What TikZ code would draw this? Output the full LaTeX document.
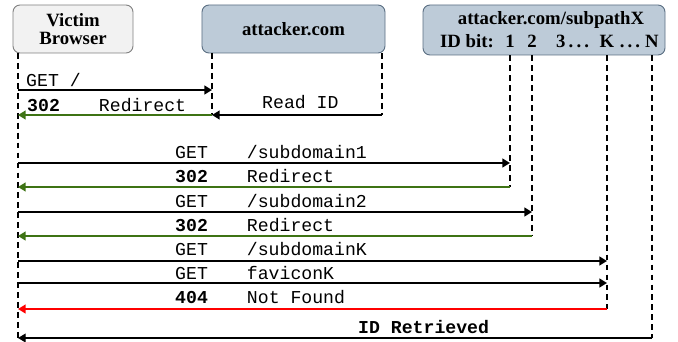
\documentclass[tikz,border=0pt]{standalone}
\usepackage{fontspec}
\setmainfont{Liberation Serif}
\setmonofont{Liberation Mono}
\usepackage{tikz}
\usetikzlibrary{arrows.meta, positioning}
\definecolor{boxgray}{HTML}{F2F2F2}
\definecolor{boxblue}{HTML}{BDCBD8}
\definecolor{edgeblue}{HTML}{5A6E82}
\definecolor{okgreen}{HTML}{3E7314}
\definecolor{errred}{HTML}{FF0000}
\newcommand{\msgtxt}[2]{\makebox[3.95em][l]{#1}#2}

\begin{document}
\begin{tikzpicture}[x=0.03cm, y=-0.03cm,
    party/.style={rounded corners=6pt, line width=0.8pt, inner sep=0pt,
        font=\fontsize{16}{17}\selectfont\bfseries, align=center},
    bitlbl/.style={inner sep=0pt, anchor=base, font=\fontsize{16}{17}\selectfont\bfseries},
    lifeline/.style={line width=1.6pt, dash pattern=on 5pt off 3.5pt},
    msg/.style={-{Triangle[length=6.5pt, width=7.5pt]}, line width=1.5pt},
    txt/.style={inner sep=0pt, anchor=base west, font=\fontsize{15.5}{16}\selectfont\ttfamily},
]
    \useasboundingbox (0,0) rectangle (678,342);

    % Parties
    \node[party, fill=boxgray, draw=gray, minimum width=3.6cm, minimum height=1.44cm]
        (vb) at (73,29) {Victim\\[-2pt]Browser};
    \node[party, fill=boxblue, draw=edgeblue, minimum width=5.49cm, minimum height=1.44cm]
        (att) at (293.5,29) {attacker.com};
    \node[party, fill=boxblue, draw=edgeblue, minimum width=7.26cm, minimum height=1.5cm]
        (sub) at (544,30) {};
    \node[bitlbl] (subttl) at (551,25) {attacker.com/subpathX};
    \node[bitlbl] (idbit) at (467,48) {ID bit:};
    \node[bitlbl] (b1) at (510,48) {1};
    \node[bitlbl] (b2) at (532,48) {2};
    \node[bitlbl, anchor=base west] (b3) at (556,48) {3\,.\,.\,.};
    \node[bitlbl] (bK) at (607,48) {K};
    \node[bitlbl] (bdots) at (630,48) {.\,.\,.};
    \node[bitlbl] (bN) at (652,48) {N};

    % Lifeline ends
    \coordinate (vbt) at (18,53);
    \coordinate (a1t) at (212,53);
    \coordinate (a2t) at (382,53);
    \coordinate (s1t) at (b1 |- sub.south);
    \coordinate (s2t) at (b2 |- sub.south);
    \coordinate (sKt) at (bK |- sub.south);
    \coordinate (sNt) at (bN |- sub.south);

    % Message rows
    \coordinate (m1) at (0,90);
    \coordinate (m2) at (0,115);
    \coordinate (m3) at (0,163);
    \coordinate (m4) at (0,187);
    \coordinate (m5) at (0,212);
    \coordinate (m6) at (0,236);
    \coordinate (m7) at (0,261);
    \coordinate (m8) at (0,283);
    \coordinate (m9) at (0,309);
    \coordinate (m10) at (0,338);

    % Lifelines
    \draw[lifeline] (vbt) -- (vbt |- m10);
    \draw[lifeline] (a1t) -- (a1t |- m2);
    \draw[lifeline] (a2t) -- (a2t |- m2);
    \draw[lifeline] (s1t) -- (s1t |- m4);
    \draw[lifeline] (s2t) -- (s2t |- m6);
    \draw[lifeline] (sKt) -- (sKt |- m9);
    \draw[lifeline] (sNt) -- (sNt |- m10);

    % Read the ID
    \draw[msg] (vbt |- m1) -- (a1t |- m1);
    \node[txt] (t1) at (26,87) {GET /};
    \draw[msg, okgreen] (a1t |- m2) -- (vbt |- m2);
    \node[txt] (t2) at (27,112) {\msgtxt{\textbf{302}}{Redirect}};
    \draw[msg] (a2t |- m2) -- (a1t |- m2);
    \node[txt] (t3) at (262,109) {Read ID};

    % Bits
    \draw[msg] (vbt |- m3) -- (s1t |- m3);
    \node[txt] (t4) at (175,158) {\msgtxt{GET}{/subdomain1}};
    \draw[msg, okgreen] (s1t |- m4) -- (vbt |- m4);
    \node[txt] (t5) at (175,182) {\msgtxt{\textbf{302}}{Redirect}};
    \draw[msg] (vbt |- m5) -- (s2t |- m5);
    \node[txt] (t6) at (175,207) {\msgtxt{GET}{/subdomain2}};
    \draw[msg, okgreen] (s2t |- m6) -- (vbt |- m6);
    \node[txt] (t7) at (175,231) {\msgtxt{\textbf{302}}{Redirect}};
    \draw[msg] (vbt |- m7) -- (sKt |- m7);
    \node[txt] (t8) at (175,255) {\msgtxt{GET}{/subdomainK}};
    \draw[msg] (vbt |- m8) -- (sKt |- m8);
    \node[txt] (t9) at (175,279) {\msgtxt{GET}{faviconK}};
    \draw[msg, errred] (sKt |- m9) -- (vbt |- m9);
    \node[txt] (t10) at (175,303) {\msgtxt{\textbf{404}}{Not Found}};

    % Result
    \draw[msg, line width=1pt] (sNt |- m10) -- (vbt |- m10);
    \node[txt, font=\fontsize{15.5}{16}\selectfont\ttfamily\bfseries] (t11) at (358,333) {ID Retrieved};

\end{tikzpicture}
\end{document}
